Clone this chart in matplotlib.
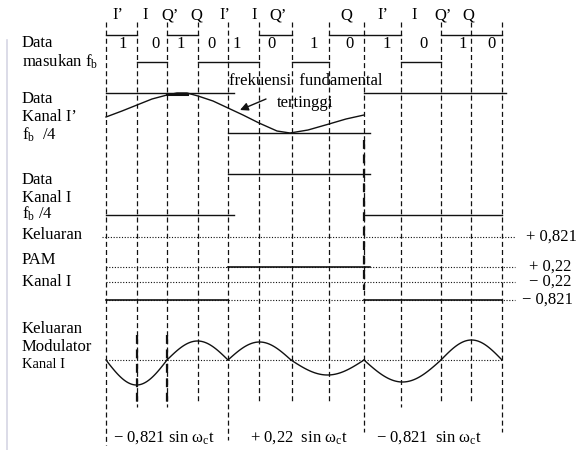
import numpy as np
import matplotlib
matplotlib.use("Agg")
import matplotlib.pyplot as plt

plt.rcParams['font.family'] = ['Liberation Serif', 'DejaVu Serif']
plt.rcParams['mathtext.fontset'] = 'custom'
plt.rcParams['mathtext.rm'] = 'Liberation Serif'
plt.rcParams['mathtext.it'] = 'Liberation Serif:italic'

# ---------------- data ----------------
# symbol time boundaries
t_edges = [106, 137, 167, 198, 228, 259, 292, 329, 364, 401, 441, 471, 502]
sym_labels = ["I’", "I", "Q’", "Q", "I’", "I", "Q’", "Q", "I’", "I", "Q’", "Q"]
sym_label_x = [118, 145, 170, 196, 225, 254, 278, 346, 383, 414, 443, 468]
bits = [1, 0, 1, 0, 1, 0, 1, 0, 1, 0, 1, 0]
bit_x = [123, 155, 181, 211, 237, 271, 314, 350, 387, 424, 463, 492]
data_levels = [1, 0, 1, 0, 0, 1, 0, 1, 1, 0, 1, 1]      # input waveform as drawn

grp_edges = [106, 228, 364, 502]                          # 4-symbol groups
ch_Iprime = [1, 0, 1]
ch_I = [0, 1, 0]
pam_out = [-0.821, 0.22, -0.821]
pam_levels = [0.821, 0.22, -0.22, -0.821]
pam_level_labels = ["+ 0,821", "+ 0,22", "− 0,22", "− 0,821"]

# highest fundamental frequency curve (Kanal I' track units, 0 = low, 1 = high)
fund_t = [106, 122, 137, 152, 167, 177, 187, 198, 213, 228, 243, 259, 277, 290,
          308, 329, 346, 364]
fund_v = [0.40, 0.55, 0.70, 0.85, 0.95, 1.0, 1.0, 0.925, 0.80, 0.625, 0.45, 0.25,
          0.05, 0.0, 0.075, 0.225, 0.35, 0.45]

# modulator output: half-cycle boundaries and peak amplitudes (as drawn)
mod_edges = [106, 167, 228, 291, 364, 441, 502]
mod_peaks = [-1.0, 0.76, 0.72, -0.6, -0.88, 0.8]

bottom_labels = ["− 0,821 sin ω$_\\mathrm{c}$t", "+ 0,22  sin ω$_\\mathrm{c}$t",
                 "− 0,821  sin ω$_\\mathrm{c}$t"]
bottom_x = [113, 250, 376]

# ---------------- layout (pixels) ----------------
W, H = 578, 450
fig = plt.figure(figsize=(W / 100, H / 100), dpi=100)
ax = fig.add_axes([0, 0, 1, 1])
ax.set_xlim(0, W)
ax.set_ylim(H, 0)
ax.axis('off')

FS = 12
lc = '#111111'
lw = 1.0

# page edge
ax.plot([7, 7], [40, 450], color='#d6d6e4', lw=1.2)

# vertical dashed lines
v_bottom = [445, 407, 407, 403, 440, 403, 402, 402, 432, 407, 402, 402, 432]
for x, yb in zip(t_edges, v_bottom):
    ax.plot([x, x], [22, yb], color=lc, lw=0.9, ls=(0, (4, 2.5)))
# slightly thicker dashed parts
for x in [137, 167]:
    ax.plot([x, x], [335, 405], color=lc, lw=1.6, ls=(0, (4, 2.5)))
ax.plot([364, 364], [140, 290], color=lc, lw=1.6, ls=(0, (4, 2.5)))

# symbol labels and bit values
for s, x in zip(sym_labels, sym_label_x):
    ax.text(x, 15, s, fontsize=FS, ha='center', va='center')
for b, x in zip(bits, bit_x):
    ax.text(x, 44, str(b), fontsize=FS, ha='center', va='center')

# data input waveform
y_hi, y_lo = 35, 62
for i, lev in enumerate(data_levels):
    y = y_hi if lev else y_lo
    ax.plot([t_edges[i], t_edges[i + 1]], [y, y], color=lc, lw=lw)

# Kanal I' track
ip_hi, ip_lo = 93, 133
for i, lev in enumerate(ch_Iprime):
    y = ip_hi if lev else ip_lo
    x1 = grp_edges[i + 1] + (4 if i == len(ch_Iprime) - 1 else 6)
    ax.plot([grp_edges[i], x1], [y, y], color=lc, lw=lw)
fy = [ip_lo - v * (ip_lo - ip_hi) for v in fund_v]
ax.plot(fund_t, fy, color=lc, lw=lw)
ax.plot([167, 187], [93.5, 93.5], color=lc, lw=2.2)
ax.text(229, 81, "frekuensi  fundamental", fontsize=FS, ha='left', va='center')
ax.text(277, 103, "tertinggi", fontsize=FS, ha='left', va='center')
ax.annotate("", xy=(240, 110), xytext=(266, 99),
            arrowprops=dict(arrowstyle='-|>', color=lc, lw=1.0,
                            mutation_scale=12, shrinkA=0, shrinkB=0))

# Kanal I track
i_hi, i_lo = 174, 215
for i, lev in enumerate(ch_I):
    y = i_hi if lev else i_lo
    x1 = grp_edges[i + 1] + (0 if i == len(ch_I) - 1 else 6)
    ax.plot([grp_edges[i], x1], [y, y], color=lc, lw=lw)

# PAM output
pam_y = [237, 267, 282, 300]
level_y = dict(zip(pam_levels, pam_y))
for i, y in enumerate(pam_y):
    ax.plot([102 if i == 0 else 106, 515], [y, y], color=lc, lw=0.8, ls=(0, (1, 1.5)))
for i, v in enumerate(pam_out):
    y = level_y[v]
    x0 = grp_edges[i]
    x1 = grp_edges[i + 1] + (6 if i == 1 else 0)
    ax.plot([x0, x1], [y, y], color=lc, lw=1.2)
for s, y, x in zip(pam_level_labels, pam_y, [526, 529, 529, 522]):
    ax.text(x, y, s, fontsize=FS, ha='left', va='center')

# modulator output
base, scale = 360, 25
ax.plot([106, 502], [base, base], color=lc, lw=0.8, ls=(0, (1, 1.5)))
for a, b, p in zip(mod_edges[:-1], mod_edges[1:], mod_peaks):
    x = np.linspace(a, b, 60)
    y = base - p * scale * np.sin(np.pi * (x - a) / (b - a))
    ax.plot(x, y, color=lc, lw=lw)

for s, x in zip(bottom_labels, bottom_x):
    ax.text(x, 438, s, fontsize=FS, ha='left', va='center')

# left labels
left_labels = [("Data", 43), ("masukan f$_\\mathrm{b}$", 62),
               ("Data", 99), ("Kanal I’", 117), ("f$_\\mathrm{b}$  /4", 135),
               ("Data", 180), ("Kanal I", 198), ("f$_\\mathrm{b}$ /4", 214),
               ("Keluaran", 235), ("PAM", 260), ("Kanal I", 282),
               ("Keluaran", 329), ("Modulator", 347)]
for s, y in left_labels:
    ax.text(22, y, s, fontsize=FS, ha='left', va='center')
ax.text(22, 364, "Kanal I", fontsize=FS - 1.5, ha='left', va='center')

fig.savefig("out.png", dpi=100)
